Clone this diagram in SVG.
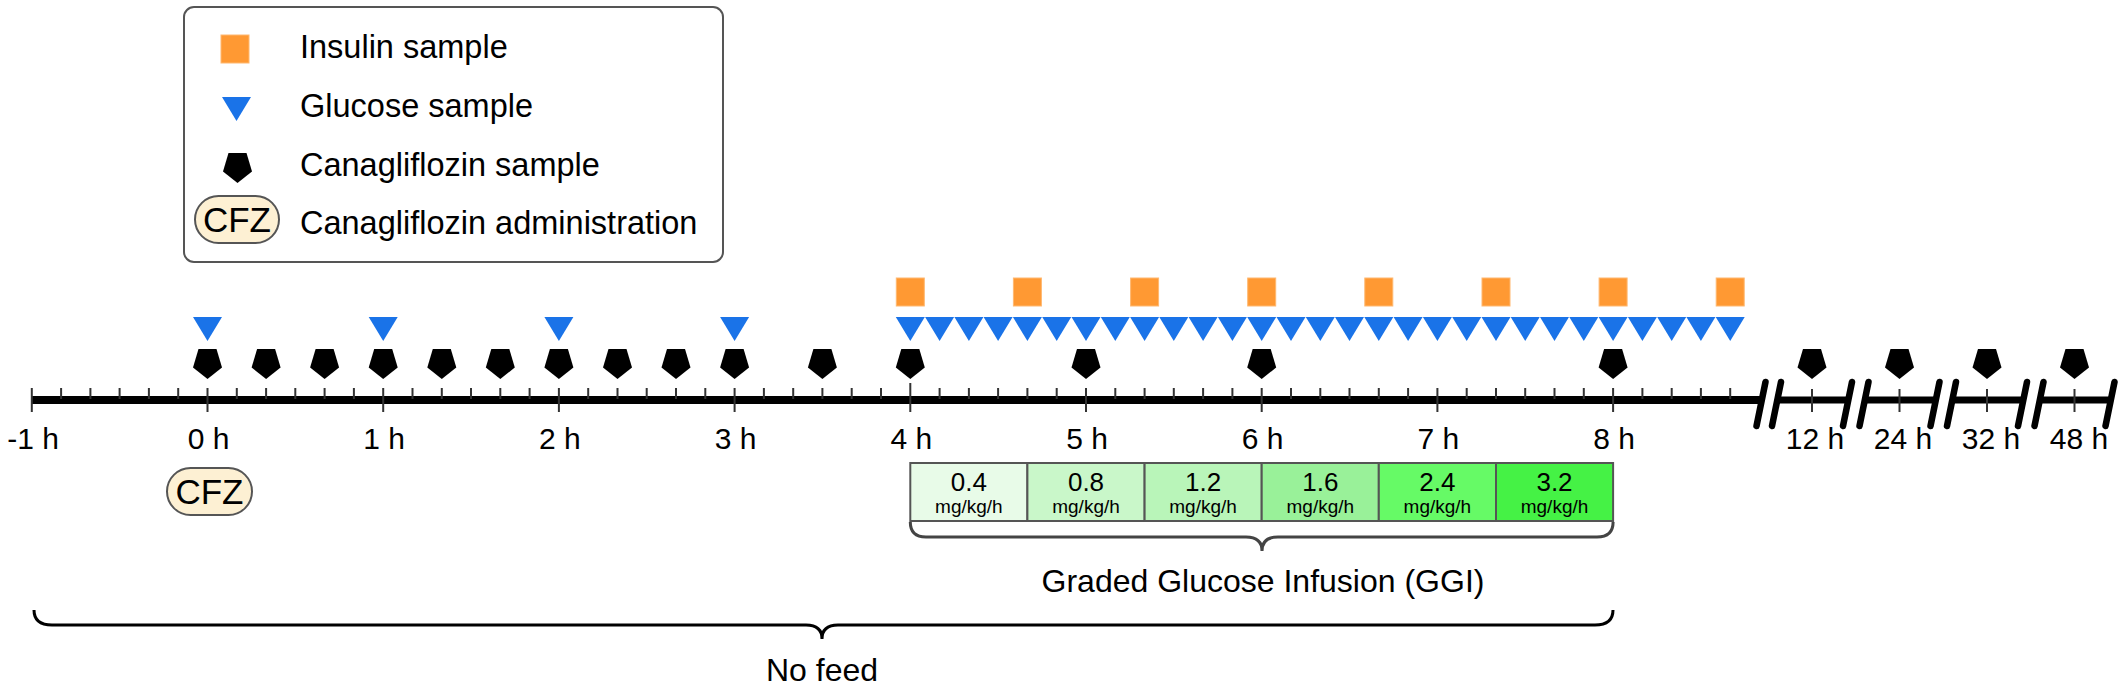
<svg xmlns="http://www.w3.org/2000/svg" xmlns:xlink="http://www.w3.org/1999/xlink" width="2128" height="688" viewBox="0 0 2128 688">
<style>
text{font-family:"Liberation Sans",Arial,sans-serif;fill:#000}
.leg{font-size:32.5px}
.hr{font-size:30px;text-anchor:middle}
.rate{font-size:26px;text-anchor:middle}
.unit{font-size:19px;text-anchor:middle}
.big{font-size:32px;text-anchor:middle}
.cfz{font-size:35px;text-anchor:middle}
.tri{fill:#1a73e8}
.sq{fill:#ff9933;stroke:#ffb870;stroke-width:1}
.pent{fill:#000}
.oval{fill:#fdf0d3;stroke:#555;stroke-width:2}
.box{stroke:#555;stroke-width:2}
.brk{stroke:#000;stroke-width:6.5;stroke-linecap:round;fill:none}
</style>
<defs>
<path id="tri" d="M-14.5,0 L14.5,0 L0,24 Z"/>
<path id="pent" d="M-9,0 L9,0 L14.5,18.5 L0,30 L-14.5,18.5 Z"/>
</defs>
<rect width="2128" height="688" fill="#fff"/>

<g id="legend">
<rect x="184" y="7" width="539" height="255" rx="10" fill="#fff" stroke="#555" stroke-width="2"/>
<rect class="sq" x="221" y="35" width="28" height="28"/>
<use xlink:href="#tri" class="tri" x="236.5" y="97"/>
<use xlink:href="#pent" class="pent" x="237.5" y="153"/>
<rect class="oval" x="195" y="196" width="84" height="47" rx="23.5"/>
<text class="cfz" x="237" y="232">CFZ</text>
<text class="leg" x="300" y="58">Insulin sample</text>
<text class="leg" x="300" y="117">Glucose sample</text>
<text class="leg" x="300" y="176">Canagliflozin sample</text>
<text class="leg" x="300" y="234">Canagliflozin administration</text>
</g>

<g id="axis">
<path d="M31.8,400 H1761" stroke="#000" stroke-width="8"/>
<path stroke="#333" stroke-width="2" fill="none" d="M61.1,388V399M90.4,388V399M119.6,388V399M148.9,388V399M178.2,388V399M236.8,388V399M266.1,388V399M295.3,388V399M324.6,388V399M353.9,388V399M412.5,388V399M441.8,388V399M471,388V399M500.3,388V399M529.6,388V399M588.2,388V399M617.5,388V399M646.7,388V399M676,388V399M705.3,388V399M763.9,388V399M793.2,388V399M822.4,388V399M851.7,388V399M881,388V399M939.6,388V399M968.9,388V399M998.1,388V399M1027.4,388V399M1056.7,388V399M1115.3,388V399M1144.6,388V399M1173.8,388V399M1203.1,388V399M1232.4,388V399M1291,388V399M1320.3,388V399M1349.5,388V399M1378.8,388V399M1408.1,388V399M1466.7,388V399M1496,388V399M1525.2,388V399M1554.5,388V399M1583.8,388V399M1642.4,388V399M1671.7,388V399M1700.9,388V399M1730.2,388V399"/>
<path stroke="#333" stroke-width="2" fill="none" d="M31.8,388V412M207.5,388V412M383.2,388V412M558.9,388V412M734.6,388V412M910.3,383V412M1086,388V412M1261.7,388V412M1437.4,388V412M1613.1,388V412"/>
<path class="brk" d="M1765.5,382L1756.5,426"/>
<g id="seg12"><path d="M1776.5,400H1847.5" stroke="#000" stroke-width="7"/><path d="M1812,389V412" stroke="#333" stroke-width="2"/><path class="brk" d="M1781,382L1772,426M1852,382L1843,426"/></g>
<g id="seg24"><path d="M1864,400H1935" stroke="#000" stroke-width="7"/><path d="M1899.5,389V412" stroke="#333" stroke-width="2"/><path class="brk" d="M1868.5,382L1859.5,426M1939.5,382L1930.5,426"/></g>
<g id="seg32"><path d="M1951.5,400H2022.5" stroke="#000" stroke-width="7"/><path d="M1987,389V412" stroke="#333" stroke-width="2"/><path class="brk" d="M1956,382L1947,426M2027,382L2018,426"/></g>
<g id="seg48"><path d="M2039,400H2110" stroke="#000" stroke-width="7"/><path d="M2074.5,389V412" stroke="#333" stroke-width="2"/><path class="brk" d="M2043.5,382L2034.5,426M2114.5,382L2105.5,426"/></g>
<text class="hr" x="33" y="449">-1 h</text>
<text class="hr" x="208.5" y="449">0 h</text>
<text class="hr" x="384.2" y="449">1 h</text>
<text class="hr" x="559.9" y="449">2 h</text>
<text class="hr" x="735.6" y="449">3 h</text>
<text class="hr" x="911.3" y="449">4 h</text>
<text class="hr" x="1087" y="449">5 h</text>
<text class="hr" x="1262.7" y="449">6 h</text>
<text class="hr" x="1438.4" y="449">7 h</text>
<text class="hr" x="1614.1" y="449">8 h</text>
<text class="hr" x="1815" y="449">12 h</text>
<text class="hr" x="1903" y="449">24 h</text>
<text class="hr" x="1991" y="449">32 h</text>
<text class="hr" x="2079" y="449">48 h</text>
</g>

<g id="cfz-dose">
<rect class="oval" x="167" y="468" width="85" height="47" rx="23.5"/>
<text class="cfz" x="209.5" y="504">CFZ</text>
</g>

<g id="insulin-samples">
<rect class="sq" x="896.3" y="278" width="28" height="28"/>
<rect class="sq" x="1013.4" y="278" width="28" height="28"/>
<rect class="sq" x="1130.6" y="278" width="28" height="28"/>
<rect class="sq" x="1247.7" y="278" width="28" height="28"/>
<rect class="sq" x="1364.8" y="278" width="28" height="28"/>
<rect class="sq" x="1482" y="278" width="28" height="28"/>
<rect class="sq" x="1599.1" y="278" width="28" height="28"/>
<rect class="sq" x="1716.2" y="278" width="28" height="28"/>
</g>

<g id="glucose-samples" class="tri">
<use xlink:href="#tri" x="207.5" y="317"/>
<use xlink:href="#tri" x="383.2" y="317"/>
<use xlink:href="#tri" x="558.9" y="317"/>
<use xlink:href="#tri" x="734.6" y="317"/>
<use xlink:href="#tri" x="910.3" y="317"/>
<use xlink:href="#tri" x="939.6" y="317"/>
<use xlink:href="#tri" x="968.9" y="317"/>
<use xlink:href="#tri" x="998.1" y="317"/>
<use xlink:href="#tri" x="1027.4" y="317"/>
<use xlink:href="#tri" x="1056.7" y="317"/>
<use xlink:href="#tri" x="1086" y="317"/>
<use xlink:href="#tri" x="1115.3" y="317"/>
<use xlink:href="#tri" x="1144.6" y="317"/>
<use xlink:href="#tri" x="1173.8" y="317"/>
<use xlink:href="#tri" x="1203.1" y="317"/>
<use xlink:href="#tri" x="1232.4" y="317"/>
<use xlink:href="#tri" x="1261.7" y="317"/>
<use xlink:href="#tri" x="1291" y="317"/>
<use xlink:href="#tri" x="1320.3" y="317"/>
<use xlink:href="#tri" x="1349.5" y="317"/>
<use xlink:href="#tri" x="1378.8" y="317"/>
<use xlink:href="#tri" x="1408.1" y="317"/>
<use xlink:href="#tri" x="1437.4" y="317"/>
<use xlink:href="#tri" x="1466.7" y="317"/>
<use xlink:href="#tri" x="1496" y="317"/>
<use xlink:href="#tri" x="1525.2" y="317"/>
<use xlink:href="#tri" x="1554.5" y="317"/>
<use xlink:href="#tri" x="1583.8" y="317"/>
<use xlink:href="#tri" x="1613.1" y="317"/>
<use xlink:href="#tri" x="1642.4" y="317"/>
<use xlink:href="#tri" x="1671.7" y="317"/>
<use xlink:href="#tri" x="1700.9" y="317"/>
<use xlink:href="#tri" x="1730.2" y="317"/>
</g>

<g id="cfz-samples" class="pent">
<use xlink:href="#pent" x="207.5" y="349"/>
<use xlink:href="#pent" x="266.1" y="349"/>
<use xlink:href="#pent" x="324.6" y="349"/>
<use xlink:href="#pent" x="383.2" y="349"/>
<use xlink:href="#pent" x="441.8" y="349"/>
<use xlink:href="#pent" x="500.3" y="349"/>
<use xlink:href="#pent" x="558.9" y="349"/>
<use xlink:href="#pent" x="617.5" y="349"/>
<use xlink:href="#pent" x="676" y="349"/>
<use xlink:href="#pent" x="734.6" y="349"/>
<use xlink:href="#pent" x="822.4" y="349"/>
<use xlink:href="#pent" x="910.3" y="349"/>
<use xlink:href="#pent" x="1086" y="349"/>
<use xlink:href="#pent" x="1261.7" y="349"/>
<use xlink:href="#pent" x="1613.1" y="349"/>
<use xlink:href="#pent" x="1812" y="349"/>
<use xlink:href="#pent" x="1899.5" y="349"/>
<use xlink:href="#pent" x="1987" y="349"/>
<use xlink:href="#pent" x="2074.5" y="349"/>
</g>

<g id="ggi">
<rect class="box" x="910.3" y="463" width="117.1" height="58" fill="#e8fbe8"/>
<rect class="box" x="1027.4" y="463" width="117.2" height="58" fill="#c9f7c9"/>
<rect class="box" x="1144.6" y="463" width="117.1" height="58" fill="#b9f5b9"/>
<rect class="box" x="1261.7" y="463" width="117.1" height="58" fill="#99f199"/>
<rect class="box" x="1378.8" y="463" width="117.2" height="58" fill="#66fa66"/>
<rect class="box" x="1496" y="463" width="117.1" height="58" fill="#45f245"/>
<text class="rate" x="968.9" y="491">0.4</text>
<text class="rate" x="1086" y="491">0.8</text>
<text class="rate" x="1203.1" y="491">1.2</text>
<text class="rate" x="1320.3" y="491">1.6</text>
<text class="rate" x="1437.4" y="491">2.4</text>
<text class="rate" x="1554.5" y="491">3.2</text>
<text class="unit" x="968.9" y="513">mg/kg/h</text>
<text class="unit" x="1086" y="513">mg/kg/h</text>
<text class="unit" x="1203.1" y="513">mg/kg/h</text>
<text class="unit" x="1320.3" y="513">mg/kg/h</text>
<text class="unit" x="1437.4" y="513">mg/kg/h</text>
<text class="unit" x="1554.5" y="513">mg/kg/h</text>
</g>

<g id="braces" fill="none">
<path d="M910.3,522 Q910.3,537 926,537 L1246,537 Q1262,537 1262,551 Q1262,537 1278,537 L1597,537 Q1613.1,537 1613.1,522" stroke="#444" stroke-width="3"/>
<path d="M34,610 Q34,625 52,625 L806,625 Q822,625 822,639 Q822,625 838,625 L1595,625 Q1613,625 1613,610" stroke="#000" stroke-width="3"/>
</g>

<g id="brace-labels">
<text class="big" x="1263" y="592">Graded Glucose Infusion (GGI)</text>
<text class="big" x="822" y="681">No feed</text>
</g>
</svg>
